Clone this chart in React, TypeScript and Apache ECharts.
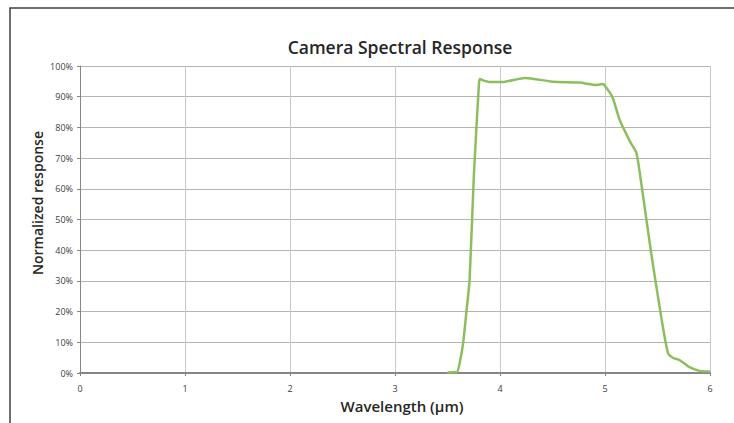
import React, { useEffect, useRef } from "react";
import * as echarts from "echarts";

const wavelengths = [3.5, 3.59, 3.62, 3.65, 3.68, 3.71, 3.75, 3.8, 3.81, 3.84, 3.9, 4.02, 4.24, 4.5, 4.76, 4.92, 4.98, 5.0, 5.07, 5.14, 5.24, 5.3, 5.35, 5.44, 5.54, 5.6, 5.65, 5.71, 5.8, 5.9, 6.0];
const responses = [0.2, 0.3, 4, 10, 20, 30, 63.5, 94.5, 95.8, 95.3, 94.8, 94.8, 96.1, 94.9, 94.6, 93.8, 94.1, 93.5, 90, 82.4, 75.3, 71.6, 60.7, 39, 17.3, 6.5, 4.9, 4.2, 2, 0.7, 0.5];
const xTicks = [0, 1, 2, 3, 4, 5, 6];
const titleText = "Camera Spectral Response";
const xName = "Wavelength (µm)";
const yName = "Normalized response";

export default function App() {
  const ref = useRef<HTMLDivElement>(null);
  useEffect(() => {
    if (!ref.current) return;
    const chart = echarts.init(ref.current, null, { renderer: "svg" });
    const font = "'Open Sans', 'DejaVu Sans', sans-serif";
    chart.setOption({
      animation: false,
      backgroundColor: "#ffffff",
      textStyle: { fontFamily: font },
      title: {
        text: titleText,
        left: 395,
        top: 33,
        textAlign: "center",
        textStyle: { fontSize: 17.5, fontWeight: 600, color: "#262626", fontFamily: font },
      },
      graphic: [
        {
          type: "rect",
          shape: { x: 10, y: 8, width: 760, height: 460 },
          style: { fill: "none", stroke: "#404040", lineWidth: 1.5 },
          silent: true,
        },
        {
          type: "text",
          x: 402,
          y: 406,
          style: {
            text: xName,
            fontSize: 15,
            fontWeight: 600,
            fill: "#262626",
            fontFamily: font,
            align: "center",
            verticalAlign: "middle",
          },
          silent: true,
        },
        {
          type: "text",
          x: 37,
          y: 203,
          rotation: Math.PI / 2,
          style: {
            text: yName,
            fontSize: 14,
            fontWeight: 600,
            fill: "#262626",
            fontFamily: font,
            align: "center",
            verticalAlign: "middle",
          },
          silent: true,
        },
      ],
      grid: { left: 80, right: 24, top: 66, bottom: 50 },
      xAxis: {
        type: "value",
        min: xTicks[0],
        max: xTicks[xTicks.length - 1],
        interval: 1,
        axisLine: { show: true, onZero: false, lineStyle: { color: "#868686", width: 2 } },
        axisTick: { show: true, length: 3, lineStyle: { color: "#868686" } },
        axisLabel: { fontSize: 9, color: "#404040", margin: 11 },
        splitLine: { show: true, lineStyle: { color: "#c8c8c8", width: 1 } },
      },
      yAxis: {
        type: "value",
        min: 0,
        max: 100,
        interval: 10,
        axisLine: { show: true, lineStyle: { color: "#868686", width: 1 } },
        axisTick: { show: true, length: 3, lineStyle: { color: "#868686" } },
        axisLabel: { fontSize: 9, color: "#404040", margin: 7, formatter: (v: number) => `${v}%` },
        splitLine: { show: true, lineStyle: { color: "#b4b4b4", width: 1 } },
      },
      series: [
        {
          type: "line",
          data: wavelengths.map((w, i) => [w, responses[i]]),
          showSymbol: false,
          smooth: 0.2,
          lineStyle: { color: "#8bbf5c", width: 2.5 },
          z: 5,
        },
      ],
    });
    return () => chart.dispose();
  }, []);
  return (
    <div
      ref={ref}
      style={{ position: "fixed", left: 0, top: 0, width: 734, height: 423 }}
    />
  );
}
